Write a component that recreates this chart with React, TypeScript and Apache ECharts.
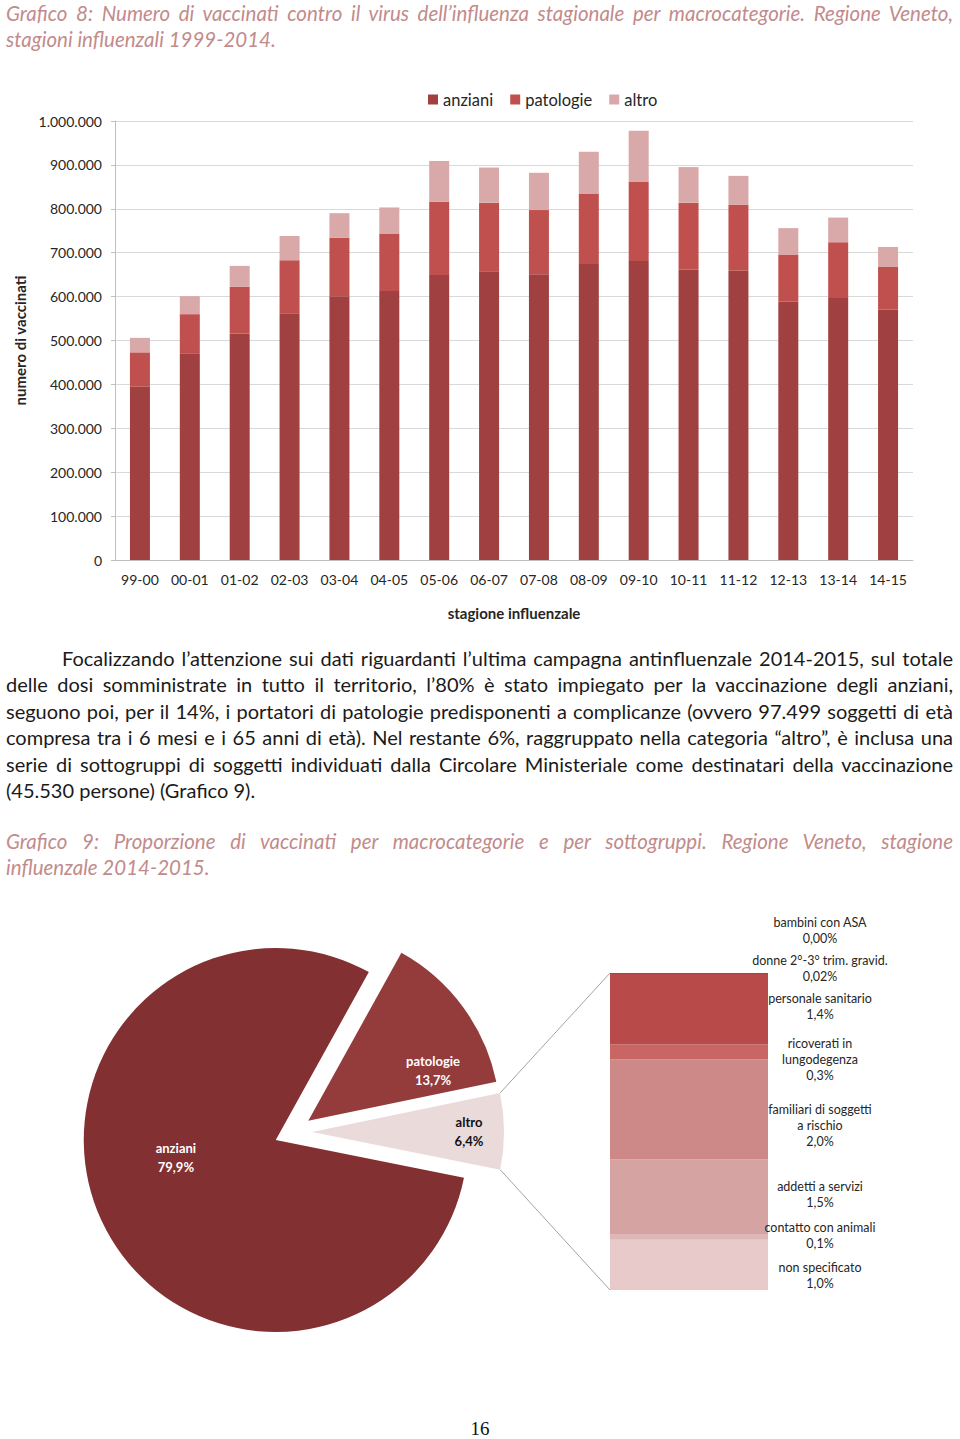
import React, { useEffect, useRef } from "react";
import * as echarts from "echarts";

// ---------- Data: Grafico 8 ----------
const seasons = ["99-00", "00-01", "01-02", "02-03", "03-04", "04-05", "05-06", "06-07", "07-08", "08-09", "09-10", "10-11", "11-12", "12-13", "13-14", "14-15"];
const anziani = [395000, 471000, 516000, 562000, 601000, 613000, 649000, 658000, 651000, 674000, 681000, 661000, 659000, 588000, 597000, 570000];
const patologie = [78000, 89000, 106000, 121000, 133000, 131000, 167000, 156000, 146000, 161000, 181000, 153000, 150000, 108000, 127000, 97499];
const altro = [33000, 41000, 48000, 55000, 56000, 59000, 93000, 80000, 85000, 95000, 116000, 81000, 66000, 60000, 56000, 45530];

// ---------- Data: Grafico 9 ----------
const pieNames = ["patologie", "altro", "anziani"];
const pieValues = [13.7, 6.4, 79.9];

// sub-groups of "altro", bottom to top of the stacked column
const subNames = [
  "non specificato",
  "contatto con animali",
  "addetti a servizi",
  "familiari di soggetti\na rischio",
  "ricoverati in\nlungodegenza",
  "personale sanitario",
  "donne 2°-3° trim. gravid.",
  "bambini con ASA",
];
const subValues = [1.0, 0.1, 1.5, 2.0, 0.3, 1.4, 0.02, 0.0];
const subDecimals = [1, 1, 1, 1, 1, 1, 2, 2];

// ---------- Styling ----------
const barColors = { anziani: "#A04040", patologie: "#C0504D", altro: "#D9A8A8" };
const pieColors = ["#943B3B", "#EBDADA", "#833033"];
const pieLabelColors = ["#FFFFFF", "#111111", "#FFFFFF"];
const pieLabelShift = [
  [45, 8],
  [58, 0],
  [-10, -24],
];
const subColors = ["#E8CACA", "#DEB7B7", "#D4A3A2", "#CC8988", "#C86664", "#B84B4A", "#A84343", "#A04040"];
const subLabelDy = [11, -2, -3, 16, 8, -3, -5, -43];

const textDark = "#262626";
const captionColor = "#C28B8B";

const fmtThousands = (v: number) => String(v).replace(/\B(?=(\d{3})+(?!\d))/g, ".");
const fmtPct = (v: number, d: number) => v.toFixed(d).replace(".", ",") + "%";

const barSeries = (name: string, data: number[], color: string) => ({
  name,
  type: "bar",
  stack: "tot",
  barWidth: 20,
  data,
  itemStyle: { color },
  emphasis: { disabled: true },
});

const barOption = {
  animation: false,
  textStyle: { fontFamily: "Lato" },
  legend: {
    top: 6,
    left: 423,
    itemWidth: 10,
    itemHeight: 10,
    itemGap: 17,
    icon: "rect",
    textStyle: { fontSize: 16.5, color: textDark },
    data: ["anziani", "patologie", "altro"],
  },
  grid: { left: 115, right: 47, top: 41, bottom: 80 },
  xAxis: {
    type: "category",
    data: seasons,
    name: "stagione influenzale",
    nameLocation: "middle",
    nameGap: 45,
    nameTextStyle: { fontSize: 15, fontWeight: "bold", color: textDark },
    axisLine: { lineStyle: { color: "#BFBFBF" } },
    axisTick: { length: 5, lineStyle: { color: "#BFBFBF" } },
    axisLabel: { fontSize: 14, color: textDark, margin: 12 },
  },
  yAxis: {
    type: "value",
    min: 0,
    max: 1000000,
    interval: 100000,
    name: "numero di vaccinati",
    nameLocation: "middle",
    nameGap: 80,
    nameRotate: 90,
    nameTextStyle: { fontSize: 15, fontWeight: "bold", color: textDark },
    axisLine: { show: true, lineStyle: { color: "#BFBFBF" } },
    axisTick: { show: true, length: 4, lineStyle: { color: "#BFBFBF" } },
    axisLabel: { formatter: fmtThousands, fontSize: 14, color: textDark, margin: 13 },
    splitLine: { lineStyle: { color: "#D9D9D9" } },
  },
  series: [
    barSeries("anziani", anziani, barColors.anziani),
    barSeries("patologie", patologie, barColors.patologie),
    barSeries("altro", altro, barColors.altro),
  ],
};

// pie geometry
const pieCenter = [293, 242];
const pieRadius = 192;
const pieOffset = 19;
const pieStart = 61;
// stacked column geometry
const colLeft = 610;
const colTop = 83;
const colWidth = 158;
const colHeight = 317;
const subLabelX = 52;
const subLabelStyle = { fontSize: 12.5, lineHeight: 16, color: textDark, fontFamily: "Lato" };

function buildPieOption() {
  const total = pieValues.reduce((a, b) => a + b, 0);
  const altroIdx = pieNames.indexOf("altro");
  let a0 = pieStart;
  for (let i = 0; i < altroIdx; i++) a0 -= (360 * pieValues[i]) / total;
  const a1 = a0 - (360 * pieValues[altroIdx]) / total;
  const mid = ((a0 + a1) / 2) * (Math.PI / 180);
  const cx = pieCenter[0] + pieOffset * Math.cos(mid);
  const cy = pieCenter[1] - pieOffset * Math.sin(mid);
  const pt = (a: number) => [cx + pieRadius * Math.cos((a * Math.PI) / 180), cy - pieRadius * Math.sin((a * Math.PI) / 180)];
  const up = pt(a0);
  const lo = pt(a1);
  const subTotal = subValues.reduce((a, b) => a + b, 0);
  const subLabel = (i: number) => `${subNames[i]}\n${fmtPct(subValues[i], subDecimals[i])}`;

  // labels of zero-height segments are not drawn by the bar series; place them at the top of the column
  const zeroLabels = subNames
    .map((_, i) => i)
    .filter((i) => subValues[i] === 0)
    .map((i) => ({
      type: "text",
      silent: true,
      x: colLeft + colWidth + subLabelX,
      y: colTop + subLabelDy[i],
      style: { text: subLabel(i), align: "center", verticalAlign: "middle", fill: textDark, font: `${subLabelStyle.fontSize}px Lato`, lineHeight: 16 },
    }));

  return {
    animation: false,
    textStyle: { fontFamily: "Lato" },
    grid: { left: colLeft, top: colTop, width: colWidth, height: colHeight },
    xAxis: { type: "category", data: ["altro"], show: false },
    yAxis: { type: "value", min: 0, max: subTotal, show: false },
    graphic: [
      { type: "line", silent: true, shape: { x1: up[0], y1: up[1], x2: colLeft, y2: colTop }, style: { stroke: "#8C8C8C", lineWidth: 0.8 } },
      { type: "line", silent: true, shape: { x1: lo[0], y1: lo[1], x2: colLeft, y2: colTop + colHeight }, style: { stroke: "#8C8C8C", lineWidth: 0.8 } },
      ...zeroLabels,
    ],
    series: [
      {
        type: "pie",
        center: pieCenter,
        radius: pieRadius,
        startAngle: pieStart,
        clockwise: true,
        selectedMode: "multiple",
        selectedOffset: pieOffset,
        silent: true,
        emphasis: { disabled: true },
        data: pieNames.map((n, i) => ({
          name: n,
          value: pieValues[i],
          selected: true,
          itemStyle: { color: pieColors[i] },
          label: { color: pieLabelColors[i] },
        })),
        label: {
          show: true,
          position: "inside",
          fontSize: 13,
          fontWeight: "bold",
          lineHeight: 19,
          formatter: (p: any) => `${p.name}\n${fmtPct(p.value, 1)}`,
        },
        labelLine: { show: false },
        labelLayout: (p: any) => ({ dx: pieLabelShift[p.dataIndex][0], dy: pieLabelShift[p.dataIndex][1] }),
      },
      ...subNames.map((n, i) => ({
        name: n,
        type: "bar",
        stack: "sub",
        barWidth: colWidth,
        data: [subValues[i]],
        itemStyle: { color: subColors[i] },
        emphasis: { disabled: true },
        label: {
          show: subValues[i] !== 0,
          position: "right",
          distance: 0,
          align: "center",
          verticalAlign: "middle",
          offset: [subLabelX, subLabelDy[i]],
          ...subLabelStyle,
          formatter: () => subLabel(i),
        },
      })),
    ],
  };
}

const titleFont = { fontFamily: "Lato", fontStyle: "italic" as const, fontSize: 20.5, color: captionColor };
const bodyFont = { fontFamily: "Lato", fontSize: 20, color: "#1A1A1A" };

function Lines({ lines, top, lh, font, indent = 0 }: { lines: string[]; top: number; lh: number; font: any; indent?: number }) {
  return (
    <div style={{ position: "absolute", left: 6, top, width: 947 }}>
      {lines.map((l, i) => (
        <div
          key={i}
          style={{
            ...font,
            height: lh,
            lineHeight: lh + "px",
            whiteSpace: "nowrap",
            textAlign: "justify",
            textAlignLast: i < lines.length - 1 ? "justify" : "left",
            paddingLeft: i === 0 ? indent : 0,
          }}
        >
          {l}
        </div>
      ))}
    </div>
  );
}

const title8 = [
  "Grafico 8: Numero di vaccinati contro il virus dell’influenza stagionale per macrocategorie. Regione Veneto,",
  "stagioni influenzali 1999-2014.",
];
const paragraph = [
  "Focalizzando l’attenzione sui dati riguardanti l’ultima campagna antinfluenzale 2014-2015, sul totale",
  "delle dosi somministrate in tutto il territorio, l’80% è stato impiegato per la vaccinazione degli anziani,",
  "seguono poi, per il 14%, i portatori di patologie predisponenti a complicanze (ovvero 97.499 soggetti di età",
  "compresa tra i 6 mesi e i 65 anni di età). Nel restante 6%, raggruppato nella categoria “altro”, è inclusa una",
  "serie di sottogruppi di soggetti individuati dalla Circolare Ministeriale come destinatari della vaccinazione",
  "(45.530 persone) (Grafico 9).",
];
const title9 = [
  "Grafico 9: Proporzione di vaccinati per macrocategorie e per sottogruppi. Regione Veneto, stagione",
  "influenzale 2014-2015.",
];

export default function App() {
  const barRef = useRef<HTMLDivElement>(null);
  const pieRef = useRef<HTMLDivElement>(null);

  useEffect(() => {
    const c1 = echarts.init(barRef.current!, undefined, { renderer: "svg" });
    c1.setOption(barOption as any);
    const c2 = echarts.init(pieRef.current!, undefined, { renderer: "svg" });
    c2.setOption(buildPieOption() as any);
    return () => {
      c1.dispose();
      c2.dispose();
    };
  }, []);

  return (
    <div style={{ position: "absolute", left: 0, top: 0, width: 960, height: 1439, background: "#fff", overflow: "hidden" }}>
      <Lines lines={title8} top={0} lh={26} font={titleFont} />
      <div ref={barRef} style={{ position: "absolute", left: 0, top: 80, width: 960, height: 560 }} />
      <Lines lines={paragraph} top={645} lh={26.4} font={bodyFont} indent={56} />
      <Lines lines={title9} top={828} lh={26} font={titleFont} />
      <div ref={pieRef} style={{ position: "absolute", left: 0, top: 890, width: 960, height: 460 }} />
      <div
        style={{
          position: "absolute",
          left: 0,
          top: 1418,
          width: 960,
          textAlign: "center",
          fontFamily: "'Liberation Serif', 'DejaVu Serif', serif",
          fontSize: 19,
          lineHeight: "22px",
          color: "#111",
        }}
      >
        16
      </div>
    </div>
  );
}
